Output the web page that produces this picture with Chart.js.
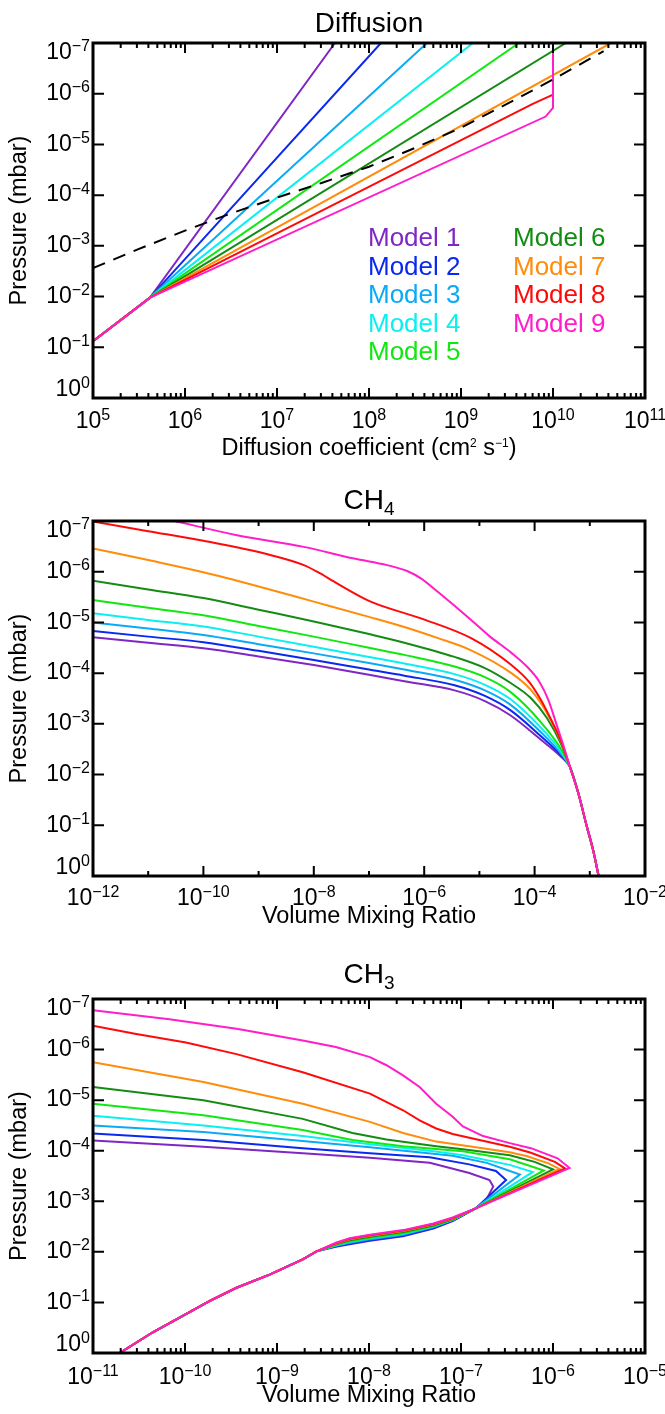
<!DOCTYPE html>
<html>
<head>
<meta charset="utf-8">
<title>Diffusion, CH4 and CH3 profiles</title>
<script src="https://cdn.jsdelivr.net/npm/chart.js@4.4.1/dist/chart.umd.min.js"></script>
<style>
  html, body { margin: 0; padding: 0; background: #fff; }
  #wrap { position: relative; width: 665px; height: 1414px; }
  canvas { position: absolute; left: 0; }
</style>
</head>
<body>
<div id="wrap">
  <canvas id="diffChart" width="665" height="470" style="top:0px"></canvas>
  <canvas id="ch4Chart" width="665" height="470" style="top:470px"></canvas>
  <canvas id="ch3Chart" width="665" height="474" style="top:940px"></canvas>
</div>
<script>
const modelNames = ['Model 1', 'Model 2', 'Model 3', 'Model 4', 'Model 5',
                    'Model 6', 'Model 7', 'Model 8', 'Model 9'];
const modelColors = ['#7f27c4', '#0a28f0', '#0aaaf5', '#0af0f0', '#10e810',
                     '#148c14', '#ff8c0a', '#ff0a0a', '#ff1ec8'];

// tick labels (powers of ten)
const pressureExps = [-7, -6, -5, -4, -3, -2, -1, 0];
const kzzExps = [5, 6, 7, 8, 9, 10, 11];
const ch4Exps = [-12, -10, -8, -6, -4, -2];
const ch3Exps = [-11, -10, -9, -8, -7, -6, -5];

// eddy diffusion profiles: [log10 Kzz (cm2 s-1), log10 P (mbar)]
const kzz1 = [[5.0, -1.12], [5.62, -1.98], [7.63, -7.0]];
const kzz2 = [[5.0, -1.12], [5.62, -1.98], [8.13, -7.0]];
const kzz3 = [[5.0, -1.12], [5.62, -1.98], [8.63, -7.0]];
const kzz4 = [[5.0, -1.12], [5.62, -1.98], [9.13, -7.0]];
const kzz5 = [[5.0, -1.12], [5.62, -1.98], [9.63, -7.0]];
const kzz6 = [[5.0, -1.12], [5.62, -1.98], [10.14, -7.0]];
const kzz7 = [[5.0, -1.12], [5.62, -1.98], [10.63, -7.0]];
const kzz8 = [[5.0, -1.12], [5.62, -1.98], [9.78, -5.80], [10.0, -5.98], [10.0, -7.0]];
const kzz9 = [[5.0, -1.12], [5.62, -1.98], [9.92, -5.55], [10.0, -5.72], [10.0, -7.0]];
const kzzRef = [[5.0, -2.56], [5.5, -2.94], [6.0, -3.30], [6.5, -3.64], [7.0, -3.95],
                [7.5, -4.25], [8.0, -4.56], [8.5, -4.93], [9.0, -5.33], [9.5, -5.80],
                [10.0, -6.28], [10.55, -6.84]];

// CH4 mixing ratio: [log10 VMR, log10 P (mbar)]
const ch4_1 = [[-12, -4.71], [-11, -4.60], [-10, -4.49], [-9, -4.33], [-8, -4.16], [-7, -3.97],
               [-6.36, -3.84], [-5.45, -3.66], [-4.9, -3.45], [-4.44, -3.17], [-3.9, -2.70], [-3.52, -2.35]];
const ch4_2 = [[-12, -4.83], [-11, -4.72], [-10, -4.61], [-9, -4.44], [-8, -4.26], [-7, -4.07],
               [-6.36, -3.95], [-5.45, -3.76], [-4.9, -3.55], [-4.44, -3.27], [-3.9, -2.77], [-3.52, -2.38]];
const ch4_3 = [[-12, -5.00], [-11, -4.88], [-10, -4.75], [-9, -4.57], [-8, -4.39], [-7, -4.20],
               [-6.36, -4.07], [-5.45, -3.87], [-4.9, -3.66], [-4.44, -3.38], [-3.9, -2.85], [-3.52, -2.41]];
const ch4_4 = [[-12, -5.18], [-11, -5.05], [-10, -4.92], [-9, -4.72], [-8, -4.52], [-7, -4.32],
               [-6.36, -4.19], [-5.45, -3.98], [-4.9, -3.77], [-4.44, -3.49], [-3.9, -2.94], [-3.52, -2.45]];
const ch4_5 = [[-12, -5.44], [-11, -5.29], [-10, -5.14], [-9, -4.93], [-8, -4.72], [-7, -4.50],
               [-6.36, -4.36], [-5.45, -4.13], [-4.9, -3.92], [-4.44, -3.63], [-3.9, -3.05], [-3.52, -2.50]];
const ch4_6 = [[-12, -5.82], [-11, -5.65], [-10, -5.48], [-9, -5.25], [-8, -5.02], [-7, -4.77],
               [-6.36, -4.60], [-5.45, -4.32], [-4.9, -4.10], [-4.44, -3.81], [-4.06, -3.50], [-3.78, -3.12], [-3.52, -2.60]];
const ch4_7 = [[-12, -6.46], [-11, -6.23], [-10, -5.99], [-9, -5.71], [-8, -5.41], [-7, -5.11],
               [-6.36, -4.91], [-5.75, -4.69], [-5.15, -4.45], [-4.42, -4.00], [-4.06, -3.66], [-3.78, -3.22], [-3.52, -2.65]];
const ch4_8 = [[-12, -6.99], [-11, -6.80], [-10, -6.61], [-8.79, -6.33], [-8.18, -6.13], [-7.94, -6.00],
               [-7.58, -5.77], [-6.97, -5.41], [-6.06, -5.08], [-5.15, -4.69], [-4.42, -4.16], [-4.10, -3.83],
               [-3.90, -3.50], [-3.70, -3.08], [-3.52, -2.66]];
const ch4_9 = [[-10.52, -7.0], [-9.39, -6.72], [-8.18, -6.49], [-7.27, -6.26], [-6.67, -6.13], [-6.30, -6.01],
               [-6.06, -5.87], [-5.76, -5.61], [-5.15, -5.05], [-4.83, -4.74], [-4.42, -4.40], [-4.14, -4.13],
               [-3.92, -3.84], [-3.75, -3.47], [-3.60, -2.98], [-3.47, -2.55]];
const ch4Tail = [[-3.36, -2.15], [-3.21, -1.64], [-3.06, -1.00], [-2.94, -0.51], [-2.84, 0.0]];

// CH3 mixing ratio: [log10 VMR, log10 P (mbar)], upper branch, peak, lower branch
const ch3_1 = [[-11, -4.20], [-9.8, -4.08], [-8.72, -3.95], [-7.99, -3.86], [-7.34, -3.76], [-6.91, -3.56],
               [-6.69, -3.42], [-6.65, -3.29], [-6.72, -3.05], [-6.84, -2.86],
               [-7.09, -2.61], [-7.30, -2.46], [-7.63, -2.31], [-7.99, -2.22], [-8.21, -2.15], [-8.36, -2.10]];
const ch3_2 = [[-11, -4.34], [-9.8, -4.21], [-8.72, -4.05], [-7.99, -3.95], [-7.34, -3.87], [-6.91, -3.73],
               [-6.62, -3.60], [-6.51, -3.42], [-6.84, -2.86],
               [-7.09, -2.62], [-7.30, -2.47], [-7.63, -2.32], [-7.99, -2.23], [-8.21, -2.16], [-8.36, -2.11]];
const ch3_3 = [[-11, -4.50], [-9.8, -4.37], [-8.72, -4.19], [-7.99, -4.07], [-7.09, -3.90], [-6.72, -3.76],
               [-6.50, -3.62], [-6.36, -3.53], [-6.84, -2.86],
               [-7.09, -2.63], [-7.30, -2.49], [-7.63, -2.34], [-7.99, -2.25], [-8.21, -2.18], [-8.36, -2.12]];
const ch3_4 = [[-11, -4.69], [-9.8, -4.50], [-8.72, -4.29], [-7.99, -4.13], [-7.30, -3.99], [-6.98, -3.91],
               [-6.47, -3.72], [-6.22, -3.58], [-6.84, -2.86],
               [-7.09, -2.64], [-7.30, -2.50], [-7.63, -2.36], [-7.99, -2.27], [-8.21, -2.20], [-8.36, -2.13]];
const ch3_5 = [[-11, -4.93], [-9.8, -4.70], [-8.72, -4.41], [-8.18, -4.21], [-7.63, -4.09], [-6.98, -3.99],
               [-6.47, -3.83], [-6.10, -3.61], [-6.84, -2.86],
               [-7.09, -2.64], [-7.30, -2.51], [-7.63, -2.37], [-7.99, -2.28], [-8.21, -2.21], [-8.36, -2.14]];
const ch3_6 = [[-11, -5.26], [-9.8, -5.00], [-8.72, -4.63], [-8.18, -4.35], [-7.81, -4.22], [-7.27, -4.09],
               [-6.98, -4.03], [-6.47, -3.91], [-6.20, -3.78], [-6.00, -3.63], [-6.84, -2.86],
               [-7.09, -2.65], [-7.30, -2.52], [-7.63, -2.39], [-7.99, -2.30], [-8.21, -2.23], [-8.36, -2.15]];
const ch3_7 = [[-11, -5.75], [-9.8, -5.36], [-8.72, -4.93], [-7.99, -4.57], [-7.63, -4.35], [-7.27, -4.18],
               [-6.95, -4.10], [-6.47, -3.97], [-6.28, -3.89], [-6.05, -3.75], [-5.93, -3.64], [-6.84, -2.86],
               [-7.09, -2.66], [-7.30, -2.54], [-7.63, -2.41], [-7.99, -2.32], [-8.21, -2.25], [-8.36, -2.16]];
const ch3_8 = [[-11, -6.47], [-10.53, -6.31], [-9.99, -6.14], [-9.44, -5.91], [-8.72, -5.55], [-7.99, -5.13],
               [-7.63, -4.80], [-7.45, -4.60], [-7.27, -4.44], [-7.09, -4.33], [-6.80, -4.21], [-6.47, -4.08],
               [-6.24, -3.96], [-5.98, -3.78], [-5.87, -3.65], [-6.84, -2.86],
               [-7.09, -2.67], [-7.30, -2.55], [-7.63, -2.42], [-7.99, -2.33], [-8.21, -2.26], [-8.36, -2.17]];
const ch3_9 = [[-11, -6.78], [-10.17, -6.60], [-9.44, -6.41], [-8.72, -6.18], [-8.36, -6.05], [-7.99, -5.85],
               [-7.81, -5.69], [-7.63, -5.49], [-7.45, -5.26], [-7.27, -4.93], [-7.09, -4.67], [-6.98, -4.48],
               [-6.76, -4.29], [-6.47, -4.15], [-6.24, -4.05], [-5.95, -3.85], [-5.82, -3.66], [-6.84, -2.86],
               [-7.09, -2.68], [-7.30, -2.56], [-7.63, -2.43], [-7.99, -2.34], [-8.21, -2.27], [-8.36, -2.18]];
const ch3Tail = [[-8.57, -2.01], [-8.72, -1.85], [-9.08, -1.55], [-9.44, -1.29], [-9.73, -1.03],
                 [-9.99, -0.77], [-10.35, -0.41], [-10.71, 0.0]];

const FONT = '"Liberation Sans", Arial, Helvetica, sans-serif';
const font = px => px + 'px ' + FONT;
const toPoints = pairs => pairs.map(([lx, lp]) => ({ x: 10 ** lx, y: 10 ** lp }));
const expText = e => (e < 0 ? '\u2212' + Math.abs(e) : String(e));

// draws text runs side by side: [text, size, rise]
function drawRich(ctx, parts, x, y, align) {
  let total = 0;
  const widths = parts.map(([t, s]) => {
    ctx.font = font(s);
    const w = ctx.measureText(t).width;
    total += w;
    return w;
  });
  let cx = align === 'right' ? x - total : x - total / 2;
  ctx.textAlign = 'left';
  parts.forEach(([t, s, rise = 0], i) => {
    ctx.font = font(s);
    ctx.fillText(t, cx, y - rise);
    cx += widths[i];
  });
}

function decadeMinors(lo, hi) {
  const out = [];
  for (let d = lo; d < hi; d++) for (let k = 2; k <= 9; k++) out.push(k * 10 ** d);
  return out;
}

// frame, inward ticks, tick labels and titles in the IDL look
function axesDecor(cfg) {
  return {
    id: 'axesDecor',
    afterDatasetsDraw(chart) {
      const { ctx, chartArea: a, scales: { x, y } } = chart;
      ctx.save();
      ctx.fillStyle = '#000';
      ctx.strokeStyle = '#000';

      ctx.lineWidth = 2;
      ctx.beginPath();
      const xTick = (v, len) => {
        const px = x.getPixelForValue(v);
        ctx.moveTo(px, a.bottom); ctx.lineTo(px, a.bottom - len);
        ctx.moveTo(px, a.top); ctx.lineTo(px, a.top + len);
      };
      cfg.xMajor.forEach(v => xTick(v, 10));
      cfg.xMinor.forEach(v => xTick(v, 5));
      pressureExps.forEach(e => {
        const py = y.getPixelForValue(10 ** e);
        ctx.moveTo(a.left, py); ctx.lineTo(a.left + 11, py);
        ctx.moveTo(a.right, py); ctx.lineTo(a.right - 11, py);
      });
      ctx.stroke();

      ctx.lineWidth = 3;
      ctx.strokeRect(a.left, a.top, a.right - a.left, a.bottom - a.top);

      // y tick labels
      ctx.textBaseline = 'middle';
      pressureExps.forEach(e => {
        let py = y.getPixelForValue(10 ** e);
        if (e === pressureExps[0]) py += 10;
        if (e === 0) py -= 8.5;
        drawRich(ctx, [['10', 23], [expText(e), 16, 6]], a.left - 3, py, 'right');
      });
      // x tick labels
      cfg.xLabels.forEach(e => {
        const px = x.getPixelForValue(10 ** e);
        drawRich(ctx, [['10', 23], [expText(e), 16, 6]], px, a.bottom + cfg.xLabelGap, 'center');
      });

      const cx = (a.left + a.right) / 2;
      ctx.textBaseline = 'alphabetic';
      drawRich(ctx, cfg.title, cx, a.top - cfg.titleGap, 'center');
      drawRich(ctx, cfg.xTitle, cx, a.bottom + cfg.xTitleGap, 'center');

      ctx.save();
      ctx.translate(20, (a.top + a.bottom) / 2);
      ctx.rotate(-Math.PI / 2);
      ctx.textAlign = 'center';
      ctx.textBaseline = 'middle';
      ctx.font = font(23.5);
      ctx.fillText('Pressure (mbar)', 0, 0);
      ctx.restore();

      if (cfg.legend) {
        ctx.font = font(26);
        ctx.textAlign = 'left';
        chart.data.datasets.forEach((ds, i) => {
          if (i >= modelNames.length) return;
          const col = i < 5 ? 0 : 1;
          const row = i < 5 ? i : i - 5;
          ctx.fillStyle = ds.borderColor;
          ctx.fillText(ds.label, a.left + 275 + col * 145, a.top + 203 + row * 28.6);
        });
      }
      ctx.restore();
    }
  };
}

function modelSets(profiles, tail, extra) {
  return profiles.map((p, i) => Object.assign({
    label: modelNames[i],
    data: toPoints(tail ? p.concat(tail) : p),
    borderColor: modelColors[i],
    borderWidth: 2,
    pointRadius: 0,
    fill: false,
    order: profiles.length - i
  }, extra || {}));
}

function profileChart(id, datasets, xMin, xMax, padTop, padBottom, decor) {
  return new Chart(document.getElementById(id), {
    type: 'line',
    data: { datasets },
    options: {
      responsive: false,
      animation: false,
      events: [],
      layout: { padding: { left: 93, right: 20, top: padTop, bottom: padBottom } },
      plugins: { legend: { display: false }, tooltip: { enabled: false } },
      scales: {
        x: { type: 'logarithmic', display: false, min: xMin, max: xMax },
        y: { type: 'logarithmic', display: false, reverse: true, min: 1e-7, max: 1 }
      }
    },
    plugins: [axesDecor(decor)]
  });
}

// Diffusion coefficient
const diffSets = modelSets([kzz1, kzz2, kzz3, kzz4, kzz5, kzz6, kzz7, kzz8, kzz9], null, { tension: 0 });
diffSets.push({
  label: 'reference',
  data: toPoints(kzzRef),
  borderColor: '#000',
  borderWidth: 2,
  borderDash: [13, 9],
  pointRadius: 0,
  fill: false,
  order: 0
});
profileChart('diffChart', diffSets, 1e5, 1e11, 43, 72, {
  xMajor: kzzExps.map(e => 10 ** e),
  xMinor: decadeMinors(5, 11),
  xLabels: kzzExps,
  xLabelGap: 23.5,
  title: [['Diffusion', 28]],
  titleGap: 11.5,
  xTitle: [['Diffusion coefficient (cm', 23.5], ['2', 12, 8.5], [' s', 23.5], ['\u22121', 12, 8.5], [')', 23.5]],
  xTitleGap: 57,
  legend: true
});

// CH4
profileChart('ch4Chart',
  modelSets([ch4_1, ch4_2, ch4_3, ch4_4, ch4_5, ch4_6, ch4_7, ch4_8, ch4_9], ch4Tail,
            { cubicInterpolationMode: 'monotone' }),
  1e-12, 1e-2, 51, 64, {
    xMajor: ch4Exps.map(e => 10 ** e),
    xMinor: [-11, -9, -7, -5, -3].map(e => 10 ** e),
    xLabels: ch4Exps,
    xLabelGap: 23,
    title: [['CH', 28], ['4', 19, -6]],
    titleGap: 12,
    xTitle: [['Volume Mixing Ratio', 23.5]],
    xTitleGap: 47
  });

// CH3
profileChart('ch3Chart',
  modelSets([ch3_1, ch3_2, ch3_3, ch3_4, ch3_5, ch3_6, ch3_7, ch3_8, ch3_9], ch3Tail, { tension: 0 }),
  1e-11, 1e-5, 59, 61, {
    xMajor: ch3Exps.map(e => 10 ** e),
    xMinor: decadeMinors(-11, -5),
    xLabels: ch3Exps,
    xLabelGap: 24.5,
    title: [['CH', 28], ['3', 19, -6]],
    titleGap: 16,
    xTitle: [['Volume Mixing Ratio', 23.5]],
    xTitleGap: 49
  });
</script>
</body>
</html>
